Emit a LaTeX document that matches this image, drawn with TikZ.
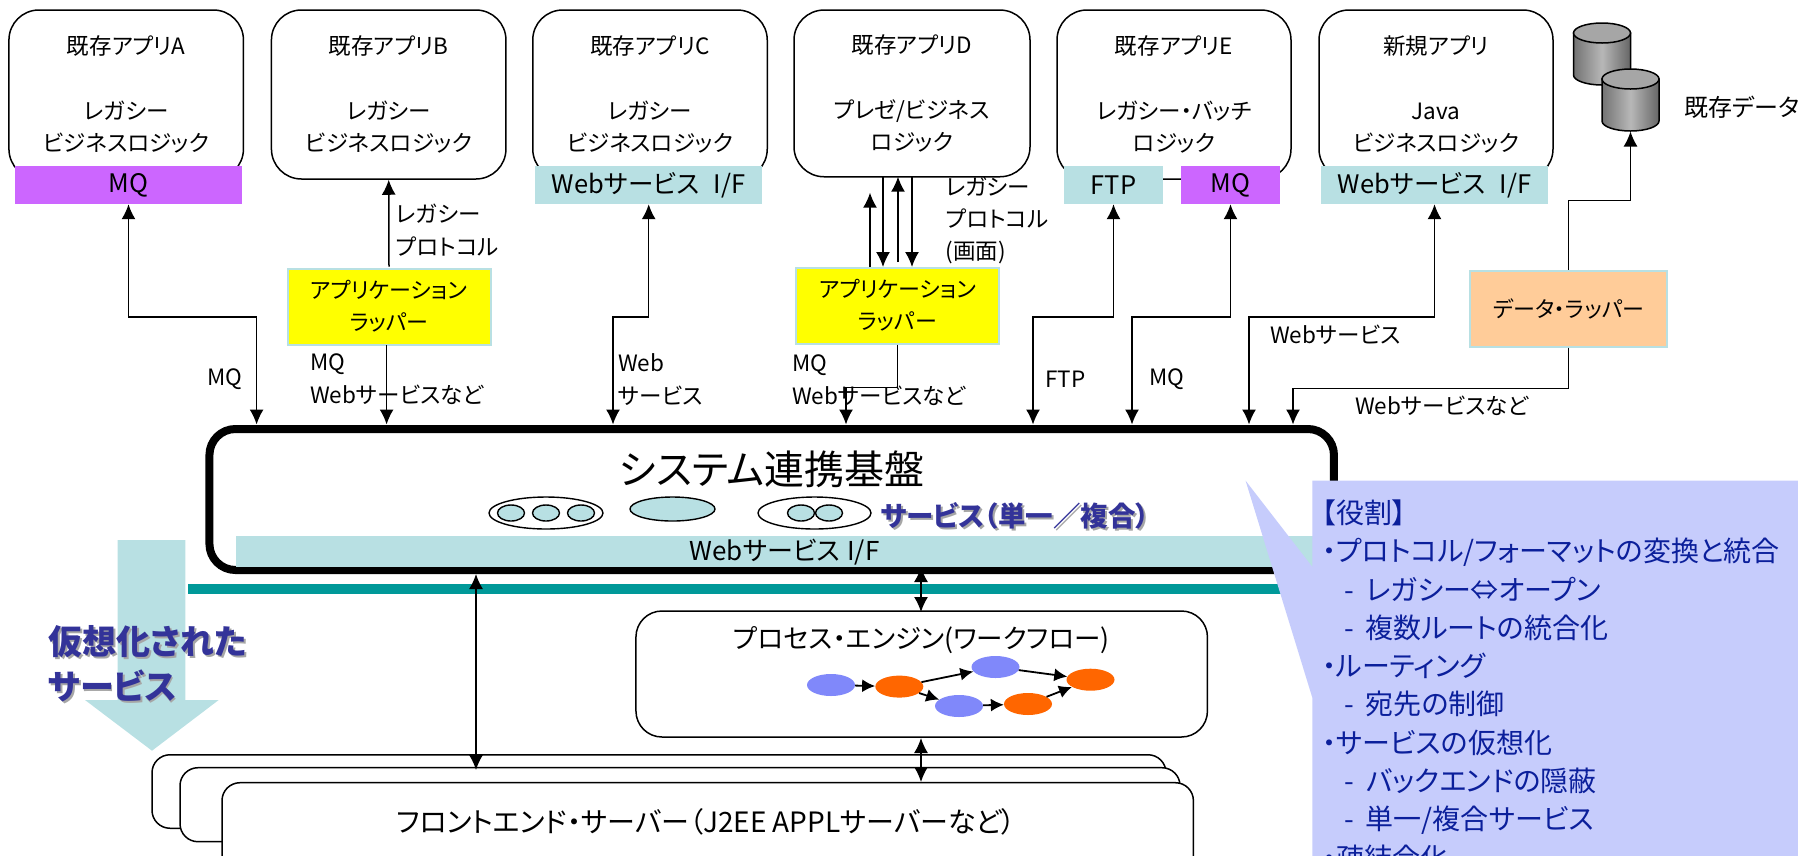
\documentclass[tikz,border=0pt]{standalone}
\usepackage{fontspec}
\setmainfont[RawFeature={+palt}]{Noto Sans CJK JP}
\usetikzlibrary{arrows.meta,shapes.geometric,calc}
\definecolor{ifblue}{HTML}{B8E0E3}
\definecolor{mqpurple}{HTML}{CC66FF}
\definecolor{wrapyellow}{HTML}{FFFF00}
\definecolor{datorange}{HTML}{FFCC99}
\definecolor{teal2}{HTML}{009999}
\definecolor{callout}{HTML}{C6CCFC}
\definecolor{navy2}{HTML}{333399}
\definecolor{navy3}{HTML}{0B1F9B}
\definecolor{wfblue}{HTML}{8088FA}
\definecolor{wforange}{HTML}{FF6600}
\newcommand{\shtext}[1]{\rlap{\kern1.8pt\raisebox{-1.8pt}{\textcolor{black!35}{#1}}}\textcolor{navy2}{#1}}
\tikzset{
 lbl/.style={inner sep=0pt,font=\fontsize{22.5}{33}\selectfont,align=left},
 appbox/.style={draw=black,line width=1.5pt,rounded corners=30pt,fill=white,inner sep=0pt,align=center,font=\fontsize{22.5}{32.5}\selectfont},
 iface/.style={fill=ifblue,inner sep=0pt,font=\fontsize{25.5}{28}\selectfont},
 mqface/.style={fill=mqpurple,inner sep=0pt,font=\fontsize{25.5}{28}\selectfont},
 wrapbox/.style={fill=wrapyellow,draw=ifblue,line width=2pt,inner sep=0pt,align=center,font=\fontsize{22}{32}\selectfont},
 datbox/.style={fill=datorange,draw=ifblue,line width=2pt,inner sep=0pt,align=center,font=\fontsize{22}{32}\selectfont},
 both/.style={line width=1.5pt,{Latex[length=15pt,width=14pt]}-{Latex[length=15pt,width=14pt]}},
 one/.style={line width=1.5pt,-{Latex[length=15pt,width=14pt]}},
 svc/.style={ellipse,draw=black,line width=1.4pt,inner sep=0pt},
 svcin/.style={ellipse,draw=black,line width=1.4pt,fill=ifblue,inner sep=0pt,minimum width=27pt,minimum height=16pt},
 wfb/.style={ellipse,fill=wfblue,inner sep=0pt,minimum width=48pt,minimum height=22pt},
 wfo/.style={ellipse,fill=wforange,inner sep=0pt,minimum width=48pt,minimum height=22pt},
 wfa/.style={line width=1.8pt,-{Latex[length=13pt,width=13pt]}},
 srv/.style={draw=black,line width=1.5pt,rounded corners=18pt,fill=white,inner sep=0pt},
}
\begin{document}
\begin{tikzpicture}[x=1pt,y=-1pt]
\useasboundingbox (0,0) rectangle (1798,855);
\clip (0,0) rectangle (1798,855);
% application boxes
\node[appbox,minimum width=234.5pt,minimum height=169pt] (appa) at (126.2,94.5) {既存アプリA\\ \\レガシー\\ビジネスロジック};
\node[appbox,minimum width=234.5pt,minimum height=169pt] (appb) at (388.7,94.5) {既存アプリB\\ \\レガシー\\ビジネスロジック};
\node[appbox,minimum width=234.5pt,minimum height=169pt] (appc) at (650,94.5) {既存アプリC\\ \\レガシー\\ビジネスロジック};
\node[appbox,minimum width=236pt,minimum height=166.7pt] (appd) at (912,93.4) {既存アプリD\\ \\プレゼ/ビジネス\\ロジック};
\node[appbox,minimum width=234pt,minimum height=169pt] (appe) at (1174,94.5) {既存アプリE\\ \\レガシー・バッチ\\ロジック};
\node[appbox,minimum width=234pt,minimum height=169pt] (appn) at (1436,94.5) {新規アプリ\\ \\Java\\ビジネスロジック};
% interface strips
\node[mqface,minimum width=227pt,minimum height=38pt] (mqa) at (128.5,185) {MQ};
\node[iface,minimum width=227pt,minimum height=38pt] (ifc) at (648.5,185) {Webサービス\hspace{14pt}I/F};
\node[iface,minimum width=99pt,minimum height=38pt] (ftpe) at (1113.5,185) {FTP};
\node[mqface,minimum width=99pt,minimum height=38pt] (mqe) at (1230.5,185) {MQ};
\node[iface,minimum width=227pt,minimum height=38pt] (ifn) at (1434.5,185) {Webサービス\hspace{14pt}I/F};
% wrappers
\node[wrapbox,minimum width=203pt,minimum height=76pt] (wrapb) at (389,306.5) {アプリケーション\\ラッパー};
\node[wrapbox,minimum width=203pt,minimum height=76pt] (wrapd) at (897.5,305.5) {アプリケーション\\ラッパー};
\node[datbox,minimum width=197pt,minimum height=76pt] (wrapdat) at (1568.6,308.5) {データ・ラッパー};
% cylinders
\foreach \n/\cx/\ty/\by in {cyla/1602/33/75,cylb/1630.5/79/121}{
  \path[left color=black!55,right color=black!60,middle color=black!28,draw=black,line width=1.5pt]
    (\cx-28.5,\ty) -- (\cx-28.5,\by) arc[start angle=180,end angle=360,x radius=28.5,y radius=-10] -- (\cx+28.5,\ty) -- cycle;
  \path[draw=black,line width=1.5pt,fill=black!35] (\cx,\ty) ellipse[x radius=28.5,y radius=10];
}
\coordinate (cylfoot) at (1630.5,131.5);
\node[lbl,anchor=west,font=\fontsize{24}{30}\selectfont] (ldb) at (1684,107) {既存データ};
% system base
\node[draw=black,line width=8pt,rounded corners=26pt,fill=white,minimum width=1124.5pt,minimum height=141pt,inner sep=0pt] (sys) at (771.7,499.5) {};
\node[iface,minimum width=1084pt,minimum height=30.7pt,anchor=north west] (sysif) at (236,536) {};
\node[inner sep=0pt,font=\fontsize{26}{30}\selectfont] (sysiflbl) at (784.5,552) {Webサービス\hspace{7pt}I/F};
\node[inner sep=0pt,font=\fontsize{40}{46}\selectfont] (systitle) at (772,469) {システム連携基盤};
\node[svc,minimum width=114pt,minimum height=32pt] (sv1) at (546,513) {};
\node[svcin] (sv1a) at (511,513) {};
\node[svcin] (sv1b) at (546,513) {};
\node[svcin] (sv1c) at (581,513) {};
\node[svc,fill=ifblue,minimum width=85pt,minimum height=24pt] (sv2) at (672.5,509) {};
\node[svc,minimum width=113pt,minimum height=32pt] (sv3) at (814.5,513) {};
\node[svcin] (sv3a) at (801,513) {};
\node[svcin] (sv3b) at (829,513) {};
\node[inner sep=0pt,font=\bfseries\fontsize{27.5}{30}\selectfont] (svclbl) at (1015,517) {\shtext{サービス（単一／複合）}};
% teal line
\node[fill=teal2,inner sep=0pt,minimum width=1140pt,minimum height=10pt,anchor=north west] (tealbar) at (188,584) {};
% big down arrow
\path[fill=ifblue] (117.7,540) -- (185.4,540) -- (185.4,700) -- (218.7,700) -- (152,750.7) -- (85,700) -- (117.7,700) -- cycle;
\node[inner sep=0pt,anchor=west,align=left,font=\bfseries\fontsize{34}{45}\selectfont] (virt) at (48,664.5) {\shtext{仮想化された}\\\shtext{サービス}};
% process engine
\node[appbox,rounded corners=26pt,minimum width=571.5pt,minimum height=126pt] (proc) at (921.7,674) {};
\node[inner sep=0pt,font=\fontsize{26.5}{30}\selectfont] (proclbl) at (921.7,640) {プロセス・エンジン(ワークフロー)};
\node[wfb] (b1) at (831,685) {};
\node[wfo] (o1) at (899.3,686.6) {};
\node[wfb] (b2) at (995.5,667) {};
\node[wfo] (o2) at (1090.5,679.7) {};
\node[wfb] (b3) at (959,706) {};
\node[wfo] (o3) at (1028,704) {};
\draw[wfa] (b1) -- (o1);
\draw[wfa] (o1) -- (b2);
\draw[wfa] (o1) -- (b3);
\draw[wfa] (b3) -- (o3);
\draw[wfa] (o3) -- (o2);
\draw[wfa] (b2) -- (o2);
% servers
\node[srv,minimum width=1014pt,minimum height=73.5pt] (srv1) at (659,791.5) {};
\node[srv,minimum width=1000pt,minimum height=74pt] (srv2) at (680,804.7) {};
\node[srv,minimum width=971.4pt,minimum height=100pt] (srv3) at (707.7,832.7) {};
\node[inner sep=0pt,font=\fontsize{28}{32}\selectfont] (srvlbl) at (706,822) {フロントエンド・サーバー（J2EE APPLサーバーなど）};
% connector end points on the system base
\coordinate (sa) at (256.6,424.5);
\coordinate (sb) at (386.6,424.5);
\coordinate (sc) at (613,424.5);
\coordinate (sd) at (846,424.5);
\coordinate (se) at (1033,424.5);
\coordinate (sf) at (1132,424.5);
\coordinate (sg) at (1249,424.5);
\coordinate (sh) at (1293,424.5);
% connectors
\draw[both] (mqa.south) -- ++(0,113) -| (sa);
\draw[one] (wrapb.north) ++(0,-1) -- (appb.south);
\draw[one] (386.6,345) coordinate (wbf) -- (sb);
\draw[both] (ifc.south) ++(0.2,0) -- ++(0,113) -| (sc);
\coordinate (d1t) at (870,192.7);
\coordinate (d1b) at (870,267);
\coordinate (d2t) at (883,176.7);
\coordinate (d2b) at (883,267);
\coordinate (d3t) at (898,176.7);
\coordinate (d3b) at (898,262);
\coordinate (d4t) at (912,176.7);
\coordinate (d4b) at (912,267);
\draw[one] (d1b) -- (d1t);
\draw[one] (d2t) -- (d2b);
\draw[one] (d3b) -- (d3t);
\draw[one] (d4t) -- (d4b);
\draw[one] (wrapd.south) -- ++(0,43) -| (sd);
\draw[both] (ftpe.south) -- ++(0,113) -| (se);
\draw[both] (mqe.south) -- ++(0,113) -| (sf);
\draw[both] (ifn.south) -- ++(0,113) -| (sg);
\draw[one] (wrapdat.north) -- ++(0,-69) -| (cylfoot);
\draw[one] (wrapdat.south) -- ++(0,41) -| (sh);
\draw[both] (476,574) coordinate (vt) -- (476,770) coordinate (vb);
\draw[both] (921,567) coordinate (pt) -- (921,612) coordinate (pb);
\draw[both] (921,738) coordinate (qt) -- (921,782) coordinate (qb);
% labels
\node[lbl,anchor=west] (l1) at (207,379) {MQ};
\node[lbl,anchor=west] (l2) at (396,230) {レガシー\\プロトコル};
\node[lbl,anchor=west] (l3) at (310,379) {MQ\\Webサービスなど};
\node[lbl,anchor=west] (l4) at (618,380) {Web\\サービス};
\node[lbl,anchor=west,font=\fontsize{22.5}{32}\selectfont] (l5) at (945.6,220) {レガシー\\プロトコル\\(画面)};
\node[lbl,anchor=west] (l6) at (792,380) {MQ\\Webサービスなど};
\node[lbl,anchor=west] (l7) at (1045,379) {FTP};
\node[lbl,anchor=west] (l8) at (1149,379) {MQ};
\node[lbl,anchor=west] (l9) at (1270,335) {Webサービス};
\node[lbl,anchor=west] (l10) at (1355,406) {Webサービスなど};
% callout
\path[fill=callout] (1312.4,480.7) -- (1312.4,567) -- (1245.6,480.7) -- (1312.4,698) -- (1312.4,860) -- (1798,860) -- (1798,480.7) -- cycle;
\node[anchor=north west,inner sep=0pt,align=left,text=navy3,font=\fontsize{28}{38.3}\selectfont] (role) at (1322,499.5) {【役割】\\[0pt]
・プロトコル/フォーマットの変換と統合\\
\hspace{22pt}-\hspace{12pt}レガシー⇔オープン\\
\hspace{22pt}-\hspace{12pt}複数ルートの統合化\\
・ルーティング\\
\hspace{22pt}-\hspace{12pt}宛先の制御\\
・サービスの仮想化\\
\hspace{22pt}-\hspace{12pt}バックエンドの隠蔽\\
\hspace{22pt}-\hspace{12pt}単一/複合サービス\\
・疎結合化};
\end{tikzpicture}
\end{document}
